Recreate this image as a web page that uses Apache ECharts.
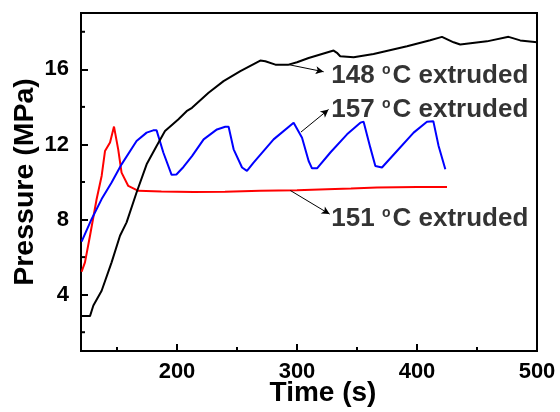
<!DOCTYPE html>
<html>
<head>
<meta charset="utf-8">
<script src="https://cdn.jsdelivr.net/npm/echarts@6/dist/echarts.min.js"></script>
<style>
html,body{margin:0;padding:0;background:#fff;}
#chart{width:560px;height:412px;}
</style>
</head>
<body>
<div id="chart"></div>
<script>
// ---- Data (time in s, pressure in MPa) ----
const black148 = [[120.5,2.86],[127.5,2.86],[130.3,3.42],[137.2,4.21],[145.5,5.72],[152.5,7.14],[158,7.85],[166.3,9.44],[174.7,10.94],[183,11.92],[190,12.71],[201,13.33],[208,13.77],[212.5,13.95],[226.3,14.75],[238.8,15.37],[252.8,15.9],[269.4,16.47],[273.6,16.43],[282,16.25],[293,16.25],[300,16.38],[309.7,16.6],[330.5,17.0],[333.3,16.88],[336,16.7],[347.2,16.64],[363.8,16.82],[391.7,17.23],[411,17.55],[420.8,17.73],[430.5,17.44],[436,17.32],[458.3,17.49],[476.3,17.73],[486,17.54],[500,17.44]];
const red151 = [[120.5,5.22],[123.3,5.72],[127.5,7.14],[133,9.08],[137.2,10.32],[140,11.65],[144.2,12.1],[147.5,12.95],[151,11.74],[153.8,10.5],[159.4,9.79],[167.8,9.53],[187,9.5],[213.8,9.47],[240,9.48],[269.4,9.53],[300,9.56],[325,9.62],[345,9.66],[366.7,9.71],[400,9.74],[425,9.74]];
const blue157 = [[120.5,6.82],[128.8,8.02],[137.2,9.09],[145.5,9.97],[153.8,10.94],[166.3,12.18],[174.7,12.63],[180.2,12.75],[183,12.75],[188.6,11.57],[195.5,10.38],[199.5,10.4],[205.4,10.8],[212.5,11.38],[222.2,12.27],[233.3,12.8],[240.2,12.94],[243,12.94],[247.2,11.74],[254.2,10.77],[258.3,10.59],[263.8,11.03],[280.5,12.27],[297.2,13.16],[298.6,13.2],[304.2,12.36],[309.7,11.12],[312.5,10.73],[316.7,10.73],[327.8,11.57],[341.7,12.54],[352.8,13.16],[355.5,13.21],[361.1,11.83],[365.3,10.85],[370.8,10.77],[383.3,11.65],[397.2,12.63],[408.3,13.21],[413.6,13.24],[418,11.92],[423.6,10.68]];

const X_MIN = 120, X_MAX = 500, Y_MIN = 1, Y_MAX = 19;
const xMajorTicks = [200,300,400,500];
const xMinorTicks = [150,250,350,450];
const yMajorTicks = [4,8,12,16];
const yMinorTicks = [2,6,10,14,18];

// annotation labels and arrows (data coordinates)
const annoNames = ['148','157','151'];
const annoAnchors = [[328.6,15.65],[328.6,13.84],[328.6,8.02]];
const annoArrows = [[[293,16.25],[322.2,15.87]],[[303.3,12.66],[326.3,13.86]],[[294.4,9.55],[327.2,8.29]]];

const FONT = '"Liberation Sans", Arial, Helvetica, sans-serif';
const chart = echarts.init(document.getElementById('chart'));

function xTickSeries(vals, len){
  return {type:'custom', silent:true, clip:false, z:5,
    data: vals.map(v => [v, Y_MIN]),
    renderItem:(params, api) => {
      const p = api.coord([api.value(0), Y_MIN]);
      return {type:'line', shape:{x1:p[0], y1:p[1], x2:p[0], y2:p[1]-len}, style:{stroke:'#000', lineWidth:2}};
    }};
}
function yTickSeries(vals, len){
  return {type:'custom', silent:true, clip:false, z:5,
    data: vals.map(v => [X_MIN, v]),
    renderItem:(params, api) => {
      const p = api.coord([X_MIN, api.value(1)]);
      return {type:'line', shape:{x1:p[0], y1:p[1], x2:p[0]+len, y2:p[1]}, style:{stroke:'#000', lineWidth:2}};
    }};
}

const option = {
  animation:false,
  backgroundColor:'#fff',
  grid:{left:81, right:23, top:13, bottom:61, outerBoundsMode:'none', show:true, borderColor:'#000', borderWidth:2, backgroundColor:'transparent'},
  xAxis:{
    type:'value', min:X_MIN, max:X_MAX,
    axisLine:{show:true, lineStyle:{color:'#000', width:2}},
    splitLine:{show:false},
    axisTick:{show:true, inside:true, length:7, lineStyle:{color:'#000', width:2}, customValues:xMajorTicks.filter(v => v < X_MAX)},
    name:'Time (s)', nameLocation:'middle', nameGap:28, nameMoveOverlap:false,
    nameTextStyle:{fontFamily:FONT, fontWeight:'bold', fontSize:28, color:'#000', padding:[0,0,0,28]},
    axisLabel:{show:true, margin:10, fontFamily:FONT, fontWeight:'bold', fontSize:22, color:'#000', customValues:xMajorTicks}
  },
  yAxis:{
    type:'value', min:Y_MIN, max:Y_MAX,
    axisLine:{show:true, lineStyle:{color:'#000', width:2}},
    splitLine:{show:false},
    axisTick:{show:true, inside:true, length:7, lineStyle:{color:'#000', width:2}, customValues:yMajorTicks},
    name:'Pressure (MPa)', nameLocation:'middle', nameGap:41, nameMoveOverlap:false,
    nameTextStyle:{fontFamily:FONT, fontWeight:'bold', fontSize:28.5, color:'#000'},
    axisLabel:{show:true, margin:12, fontFamily:FONT, fontWeight:'bold', fontSize:22, color:'#000', customValues:yMajorTicks}
  },
  series:[
    {type:'line', name:'148', data:black148, showSymbol:false, symbol:'none', lineStyle:{color:'#000', width:2}, itemStyle:{color:'#000'}, z:3,
     markLine:{silent:true, symbol:['none','arrow'], symbolSize:[6,8], label:{show:false},
       lineStyle:{color:'#000', width:1, type:'solid'},
       data: annoArrows.map(a => [{coord:a[0]},{coord:a[1]}])}},
    {type:'line', name:'151', data:red151, showSymbol:false, symbol:'none', lineStyle:{color:'#ff0000', width:2}, itemStyle:{color:'#ff0000'}, z:2},
    {type:'line', name:'157', data:blue157, showSymbol:false, symbol:'none', lineStyle:{color:'#0000ff', width:2}, itemStyle:{color:'#0000ff'}, z:2},
    {type:'scatter', name:'labels', symbolSize:0, silent:true,
     data: annoAnchors.map((p,i) => ({value:p, name:annoNames[i]})),
     label:{show:true, position:'right', distance:0, color:'#000', fontFamily:FONT, fontWeight:'bold', fontSize:26,
       formatter: p => '{n|' + p.name + ' }{s|o}{n|C extruded}',
       rich:{
         n:{fontFamily:FONT, fontWeight:'bold', fontSize:26, color:'#000'},
         s:{fontFamily:FONT, fontWeight:'bold', fontSize:14, color:'#000', verticalAlign:'top', padding:[0,2,0,0]}
       }}},
    xTickSeries(xMinorTicks, 4),
    yTickSeries(yMinorTicks, 4)
  ]
};
chart.setOption(option);
</script>
</body>
</html>
